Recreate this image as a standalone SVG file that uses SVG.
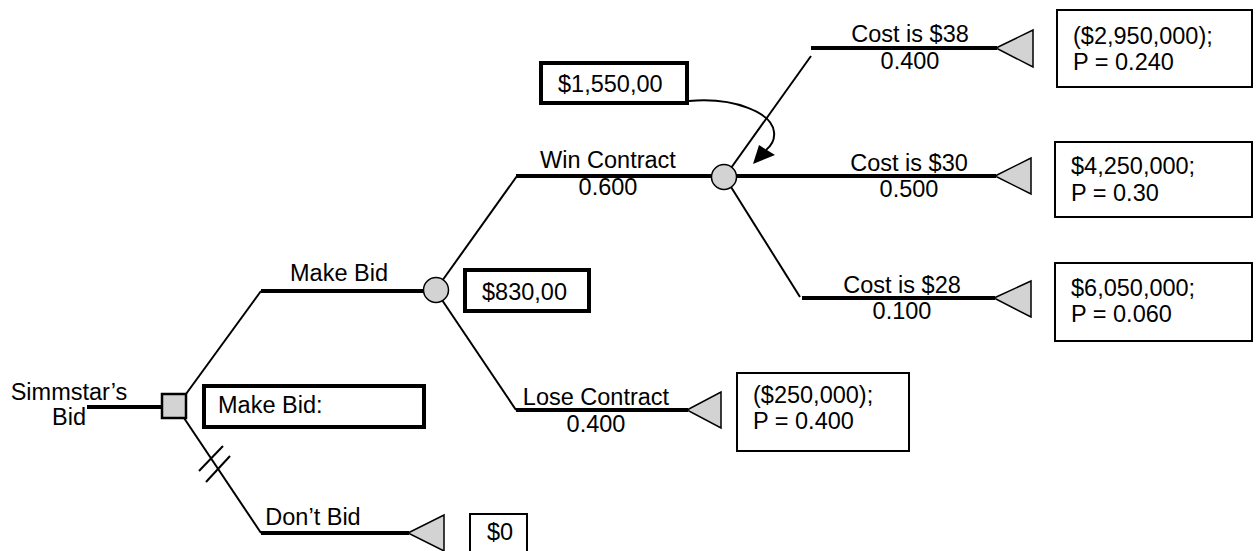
<svg xmlns="http://www.w3.org/2000/svg" width="1260" height="551" viewBox="0 0 1260 551">
  <style>
    text { font-family: "Liberation Sans", Arial, sans-serif; font-size: 23.5px; fill: #000; }
    .mid { text-anchor: middle; }
    .diag { stroke: #000; stroke-width: 2; fill: none; }
    .branch { stroke: #000; stroke-width: 4; fill: none; }
    .term { fill: #d3d3d3; stroke: #000; stroke-width: 1.5; stroke-linejoin: miter; }
    .chance { fill: #d3d3d3; stroke: #000; stroke-width: 1.5; }
    .decision { fill: #d3d3d3; stroke: #000; stroke-width: 2.5; }
    .box-bold { fill: #fff; stroke: #000; stroke-width: 4; }
    .box { fill: #fff; stroke: #000; stroke-width: 2; }
  </style>

  <!-- connectors: branch lines, hash marks, value pointer -->
  <g id="connectors">
    <line class="branch" x1="87" y1="407" x2="162" y2="407" stroke-width="3"/>
    <!-- Make Bid -->
    <line class="diag" x1="186" y1="394" x2="261" y2="291"/>
    <line class="branch" x1="261" y1="291" x2="424" y2="291"/>
    <!-- Don't Bid -->
    <line class="diag" x1="184" y1="418" x2="261" y2="533"/>
    <line class="branch" x1="261" y1="533" x2="409" y2="533"/>
    <line class="diag" x1="199" y1="471" x2="223" y2="446" stroke-width="3"/>
    <line class="diag" x1="206" y1="482" x2="230" y2="456" stroke-width="3"/>
    <!-- Win Contract -->
    <line class="diag" x1="442" y1="281" x2="517" y2="176"/>
    <line class="branch" x1="516" y1="176" x2="712" y2="176"/>
    <!-- Lose Contract -->
    <line class="diag" x1="442" y1="300" x2="516" y2="410"/>
    <line class="branch" x1="516" y1="410" x2="688" y2="410"/>
    <!-- Cost is $38 -->
    <line class="diag" x1="731" y1="168" x2="811" y2="56"/>
    <line class="branch" x1="811" y1="48" x2="997" y2="48"/>
    <!-- Cost is $30 -->
    <line class="branch" x1="736" y1="176" x2="996" y2="176"/>
    <!-- Cost is $28 -->
    <line class="diag" x1="731" y1="187" x2="800" y2="297"/>
    <line class="branch" x1="802" y1="298" x2="995" y2="298"/>
    <!-- pointer from the rolled-back value to the chance node -->
    <path class="diag" d="M689,101 C735,97 772,113 774,132 C775,140 771,146 766,150"/>
    <polygon points="753,164 759,145 775,155" fill="#000"/>
  </g>

  <g id="node-decision">
    <rect class="decision" x="162" y="394" width="24" height="24"/>
    <text class="mid" x="69" y="400">Simmstar’s</text>
    <text class="mid" x="69" y="425">Bid</text>
  </g>

  <g id="box-make-bid">
    <rect class="box-bold" x="204" y="386" width="220" height="41"/>
    <text x="218" y="413">Make Bid:</text>
  </g>

  <g id="node-bid-chance">
    <circle class="chance" cx="436" cy="290" r="12.5"/>
    <text class="mid" x="339" y="281">Make Bid</text>
  </g>

  <g id="box-830">
    <rect class="box-bold" x="465" y="270" width="124" height="41"/>
    <text x="482" y="300">$830,00</text>
  </g>

  <g id="node-dont-bid">
    <text class="mid" x="313" y="525">Don’t Bid</text>
    <polygon class="term" points="408,533 444,515 444,551"/>
  </g>

  <g id="box-0">
    <rect class="box" x="470" y="514" width="57" height="45" stroke-width="2.5"/>
    <text x="487" y="540">$0</text>
  </g>

  <g id="node-cost-chance">
    <circle class="chance" cx="724" cy="177" r="12.5"/>
    <text class="mid" x="608" y="168">Win Contract</text>
    <text class="mid" x="608" y="195">0.600</text>
  </g>

  <g id="box-1550">
    <rect class="box-bold" x="541" y="63" width="146" height="40"/>
    <text x="558" y="92">$1,550,00</text>
  </g>

  <g id="node-lose">
    <text class="mid" x="596" y="405">Lose Contract</text>
    <text class="mid" x="596" y="432">0.400</text>
    <polygon class="term" points="687,410 721,392 721,428"/>
  </g>

  <g id="box-lose">
    <rect class="box" x="737" y="373" width="172" height="78"/>
    <text x="753" y="403">($250,000);</text>
    <text x="753" y="429">P = 0.400</text>
  </g>

  <g id="node-cost-38">
    <text class="mid" x="910" y="42">Cost is $38</text>
    <text class="mid" x="910" y="69">0.400</text>
    <polygon class="term" points="996,48 1033,30 1033,67"/>
  </g>

  <g id="box-cost-38">
    <rect class="box" x="1057" y="10" width="195" height="77"/>
    <text x="1073" y="44">($2,950,000);</text>
    <text x="1073" y="70">P = 0.240</text>
  </g>

  <g id="node-cost-30">
    <text class="mid" x="909" y="171">Cost is $30</text>
    <text class="mid" x="909" y="197">0.500</text>
    <polygon class="term" points="995,176 1031,158 1031,194"/>
  </g>

  <g id="box-cost-30">
    <rect class="box" x="1055" y="142" width="197" height="75"/>
    <text x="1071" y="174">$4,250,000;</text>
    <text x="1071" y="201">P = 0.30</text>
  </g>

  <g id="node-cost-28">
    <text class="mid" x="902" y="293">Cost is $28</text>
    <text class="mid" x="902" y="319">0.100</text>
    <polygon class="term" points="994,298 1031,281 1031,317"/>
  </g>

  <g id="box-cost-28">
    <rect class="box" x="1055" y="263" width="197" height="78"/>
    <text x="1071" y="296">$6,050,000;</text>
    <text x="1071" y="322">P = 0.060</text>
  </g>
</svg>
